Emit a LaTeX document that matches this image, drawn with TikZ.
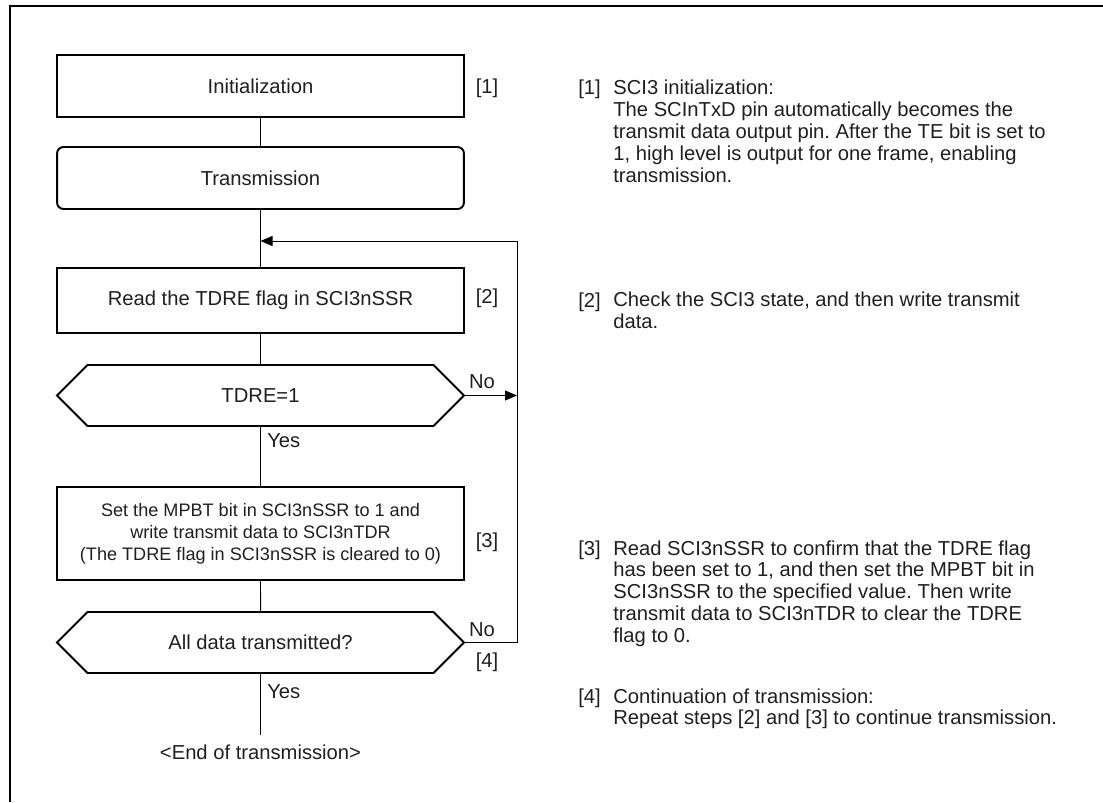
\documentclass[tikz,border=0pt]{standalone}
\usepackage{fontspec}
\setmainfont{Liberation Sans}
\frenchspacing
\usetikzlibrary{arrows.meta, positioning, shapes.symbols}
\tikzset{
    procbox/.style={
        draw,
        line width=1.1pt,
        minimum width=8.14cm,
        minimum height=1.24cm,
        inner sep=0pt,
        align=center
    },
    termbox/.style={
        procbox,
        rounded corners=0.13cm
    },
    decision/.style={
        draw,
        signal,
        signal to=east and west,
        signal pointer angle=90,
        line width=1.1pt,
        minimum width=8.14cm,
        minimum height=1.22cm,
        inner sep=0pt,
        align=center
    },
    line/.style={line width=0.55pt},
    arrowline/.style={line width=0.55pt, -{Triangle[length=0.24cm, width=0.2cm]}},
    tag/.style={anchor=north west, inner sep=0pt, align=left},
    lbl/.style={inner sep=0pt},
    every node/.style={font=\fontsize{11.5}{12.4}\selectfont, text=black!88}
}

\begin{document}
\begin{tikzpicture}[x=0.02cm, y=-0.02cm]
\useasboundingbox (0,0) rectangle (1103,802);

% frame
\draw[line width=1.2pt] (10,802) -- (10,6) -- (1103,6);

% main flow
\node[procbox] (init) at (260.5,86) {Initialization};
\node[termbox] (trans) at (260.5,178) {Transmission};
\node[procbox, minimum height=1.3cm] (read) at (260.5,300.5) {Read the TDRE flag in SCI3nSSR};
\node[decision] (tdre) at (260.5,395.5) {TDRE=1};
\node[procbox, minimum height=1.86cm, font=\fontsize{10.3}{12.6}\selectfont] (setmpbt) at (260.5,533.5)
{Set the MPBT bit in SCI3nSSR to 1 and\\ write transmit data to SCI3nTDR\\ (The TDRE flag in SCI3nSSR is cleared to 0)};
\node[decision] (alldata) at (260.5,642.5) {All data transmitted?};
\node[lbl] (endtx) at (260.5,752) {<End of transmission>};

\coordinate (endln) at (260.5,735);
\coordinate (loopcorner) at (517,241);

\draw[line] (init) -- (trans);
\draw[line] (trans) -- (read);
\draw[line] (read) -- (tdre);
\draw[line] (tdre) -- (setmpbt);
\draw[line] (setmpbt) -- (alldata);
\draw[line] (alldata.south) -- (endln);

% loop back
\draw[line] (alldata.east) -| (loopcorner);
\draw[arrowline] (loopcorner) -- (trans.south |- loopcorner);
\draw[arrowline] (tdre.east) -- (tdre.east -| loopcorner);

% branch labels
\node[lbl] (no1) at (482,382) {No};
\node[lbl] (no2) at (482,630) {No};
\node[lbl, anchor=west] (yes1) at (267,441) {Yes};
\node[lbl, anchor=west] (yes2) at (267,692) {Yes};

% step marks
\node[lbl] (s1) at (487,88) {[1]};
\node[lbl] (s2) at (487,298) {[2]};
\node[lbl] (s3) at (487,542) {[3]};
\node[lbl] (s4) at (487,662) {[4]};

% notes
\node[tag] (n1) at (578,80) {[1]};
\node[tag] (t1) at (613,80) {SCI3 initialization:\\ The SCInTxD pin automatically becomes the\\ transmit data output pin. After the TE bit is set to\\ 1, high level is output for one frame, enabling\\ transmission.};
\node[tag] (n2) at (578,292) {[2]};
\node[tag] (t2) at (613,292) {Check the SCI3 state, and then write transmit\\ data.};
\node[tag] (n3) at (578,540) {[3]};
\node[tag] (t3) at (613,540) {Read SCI3nSSR to confirm that the TDRE flag\\ has been set to 1, and then set the MPBT bit in\\ SCI3nSSR to the specified value. Then write\\ transmit data to SCI3nTDR to clear the TDRE\\ flag to 0.};
\node[tag] (n4) at (578,688) {[4]};
\node[tag] (t4) at (613,688) {Continuation of transmission:\\ Repeat steps [2] and [3] to continue transmission.};

\end{tikzpicture}
\end{document}
